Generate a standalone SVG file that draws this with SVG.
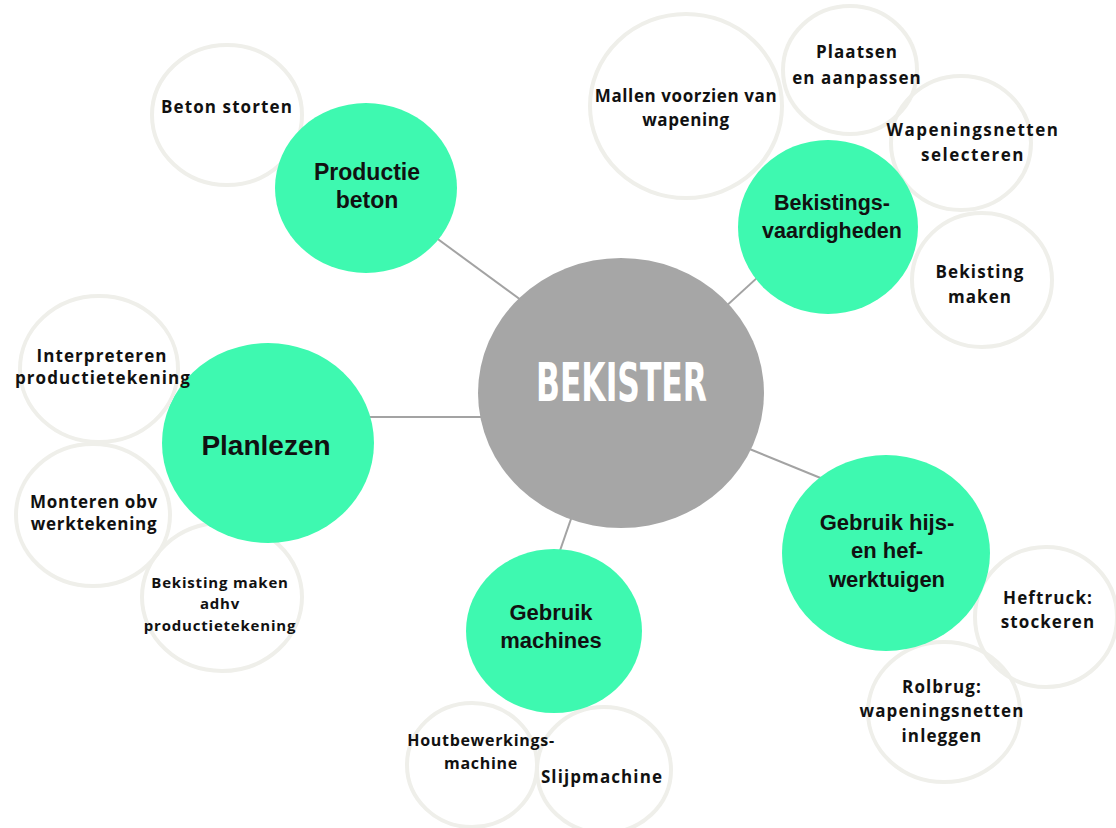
<svg xmlns="http://www.w3.org/2000/svg" width="1116" height="828" viewBox="0 0 1116 828">
<style>
.sub{fill:none;stroke:#efefea;stroke-width:4}
.main{fill:#3ef9b0}
.st{font-family:"Open Sans","Noto Sans",sans-serif;font-weight:700;font-size:17px;letter-spacing:1.1px;fill:#111;text-anchor:middle}
.sm{font-size:15px;letter-spacing:0.8px}
.mt{font-family:"Liberation Sans",Arial,sans-serif;font-weight:700;font-size:22px;fill:#111;text-anchor:middle}
.con{stroke:#a3a3a3;stroke-width:2;fill:none}
</style>
<defs>
<mask id="mPlan" maskUnits="userSpaceOnUse" x="0" y="0" width="1116" height="828">
<rect x="0" y="0" width="1116" height="828" fill="#fff"/>
<ellipse cx="268" cy="443" rx="106" ry="100" fill="#000"/>
</mask>
</defs>
<rect x="0" y="0" width="1116" height="828" fill="#fff"/>
<g id="connectors">
<line class="con" x1="420" y1="226" x2="540" y2="314"/>
<line class="con" x1="770" y1="266" x2="700" y2="330"/>
<line class="con" x1="340" y1="417" x2="520" y2="417"/>
<line class="con" x1="720" y1="437" x2="850" y2="490"/>
<line class="con" x1="555" y1="565" x2="580" y2="493"/>
</g>
<g id="beton-storten"><ellipse class="sub" cx="227" cy="115" rx="75" ry="70"/><text class="st" x="227" y="113">Beton storten</text></g>
<g id="mallen"><ellipse class="sub" cx="686" cy="106" rx="96" ry="92"/><text class="st" x="686" y="102" style="letter-spacing:0.6px">Mallen voorzien van</text><text class="st" x="686" y="126" style="letter-spacing:0.6px">wapening</text></g>
<g id="plaatsen"><ellipse class="sub" cx="850" cy="70" rx="67" ry="64"/><text class="st" x="857" y="58">Plaatsen</text><text class="st" x="857" y="84">en aanpassen</text></g>
<g id="wapeningsnetten"><ellipse class="sub" cx="961" cy="143" rx="70" ry="67"/><text class="st" x="973" y="136" style="letter-spacing:1.5px">Wapeningsnetten</text><text class="st" x="973" y="161" style="letter-spacing:1.5px">selecteren</text></g>
<g id="bekisting-maken"><ellipse class="sub" cx="982" cy="280" rx="70" ry="67"/><text class="st" x="980" y="278">Bekisting</text><text class="st" x="980" y="303">maken</text></g>
<g id="monteren"><ellipse class="sub" cx="93" cy="515" rx="77" ry="71"/><text class="st" x="94" y="508" style="letter-spacing:0.7px">Monteren obv</text><text class="st" x="94" y="530" style="letter-spacing:0.7px">werktekening</text></g>
<g id="bekisting-adhv"><ellipse class="sub" cx="222" cy="597" rx="80" ry="74"/><text class="st sm" x="220" y="588">Bekisting maken</text><text class="st sm" x="220" y="609">adhv</text><text class="st sm" x="220" y="631">productietekening</text></g>
<g id="heftruck"><ellipse class="sub" cx="1046" cy="617" rx="71" ry="70"/><text class="st" x="1048" y="604">Heftruck:</text><text class="st" x="1048" y="628">stockeren</text></g>
<g id="rolbrug"><ellipse class="sub" cx="944" cy="712" rx="76" ry="70"/><text class="st" x="942" y="693">Rolbrug:</text><text class="st" x="942" y="717">wapeningsnetten</text><text class="st" x="942" y="742">inleggen</text></g>
<g id="slijpmachine"><ellipse class="sub" cx="604" cy="770" rx="67" ry="63"/><text class="st" x="602" y="783">Slijpmachine</text></g>
<g id="houtbewerking"><ellipse class="sub" cx="472" cy="765" rx="65" ry="62"/><text class="st" x="481" y="746" style="font-size:16px;letter-spacing:0.7px">Houtbewerkings-</text><text class="st" x="481" y="769" style="font-size:16px;letter-spacing:0.7px">machine</text></g>
<g id="bekister"><ellipse cx="621" cy="393" rx="143" ry="135" fill="#a6a6a6"/><text x="621.5" y="401" font-family="'Liberation Sans Narrow','DejaVu Sans Condensed','Liberation Sans',sans-serif" font-weight="700" font-size="54" fill="#fff" text-anchor="middle" textLength="171" lengthAdjust="spacingAndGlyphs">BEKISTER</text></g>
<g id="productie-beton"><ellipse class="main" cx="366" cy="188" rx="91" ry="85"/><text class="mt" x="367" y="180" style="font-size:23px">Productie</text><text class="mt" x="367" y="208" style="font-size:23px">beton</text></g>
<g id="bekistingsvaardigheden"><ellipse class="main" cx="828" cy="227" rx="90" ry="87"/><text class="mt" x="832" y="210" style="font-size:21.5px">Bekistings-</text><text class="mt" x="832" y="238" style="font-size:21.5px">vaardigheden</text></g>
<g id="planlezen"><ellipse class="main" cx="268" cy="443" rx="106" ry="100"/><text class="mt" x="266" y="455" style="font-size:28px">Planlezen</text></g>
<g id="gebruik-hijs"><ellipse class="main" cx="886" cy="553" rx="104" ry="98"/><text class="mt" x="887" y="530">Gebruik hijs-</text><text class="mt" x="887" y="558">en hef-</text><text class="mt" x="887" y="587">werktuigen</text></g>
<g id="gebruik-machines"><ellipse class="main" cx="554" cy="631" rx="88" ry="82"/><text class="mt" x="551" y="620">Gebruik</text><text class="mt" x="551" y="648">machines</text></g>
<g id="interpreteren"><ellipse class="sub" cx="99" cy="369" rx="79" ry="73" mask="url(#mPlan)"/><text class="st" x="102" y="362">Interpreteren</text><text class="st" x="103" y="384">productietekening</text></g>
</svg>
